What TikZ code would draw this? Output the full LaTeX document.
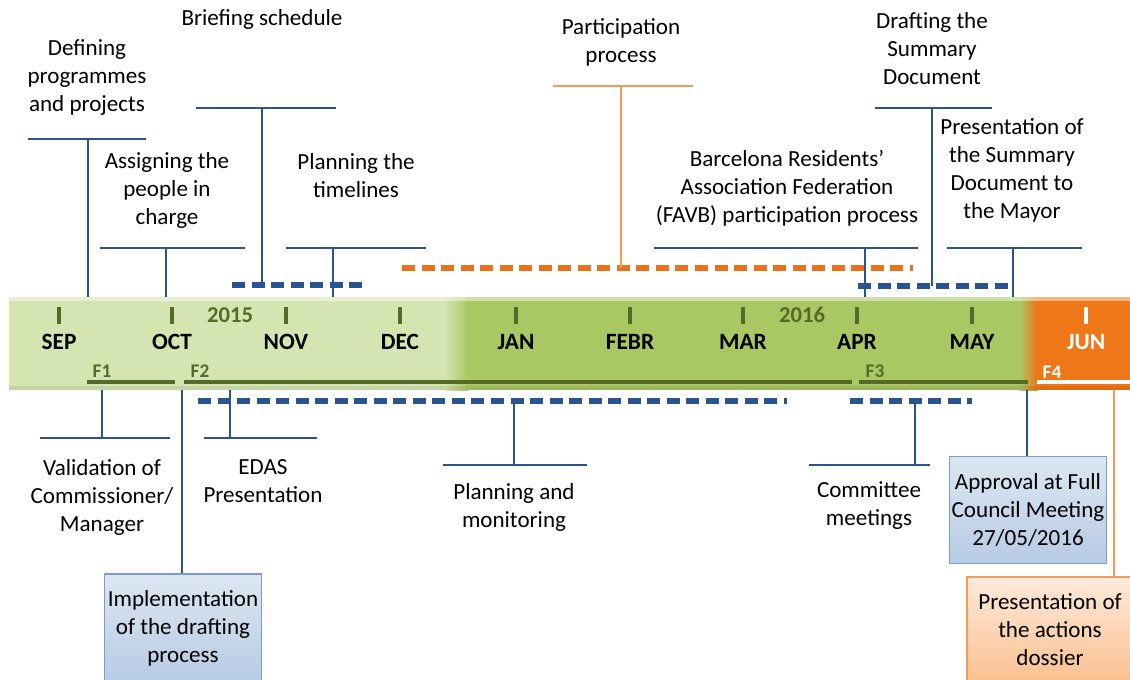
\documentclass[tikz,border=0pt]{standalone}
\usepackage{fontspec}
\setmainfont{Carlito}
\usepackage{xcolor}
\usepackage{tikz}
\usetikzlibrary{calc}
\definecolor{tnavy}{HTML}{2A5490}
\definecolor{tolive}{HTML}{566A28}
\definecolor{tlight}{HTML}{D5E5B2}
\definecolor{tdark}{HTML}{A9C763}
\definecolor{torange}{HTML}{EF7718}
\definecolor{tdash}{HTML}{E8731C}
\definecolor{tpeach}{HTML}{F59B55}
\definecolor{bluetop}{HTML}{DCE6F2}
\definecolor{bluebot}{HTML}{B7CBE4}
\definecolor{blueedge}{HTML}{7A9CCD}
\definecolor{peachtop}{HTML}{FDEADB}
\definecolor{peachbot}{HTML}{FAC08F}

\begin{document}
\begin{tikzpicture}[x=0.75pt, y=-0.75pt,
    lbl/.style={font=\fontsize{17.3}{21}\selectfont, align=center, inner sep=0pt},
    mon/.style={font=\fontsize{17.5}{20}\selectfont\bfseries, inner sep=0pt},
    yr/.style={font=\fontsize{17}{20}\selectfont\bfseries, text=tolive, inner sep=0pt},
    phase/.style={font=\fontsize{14.5}{16}\selectfont\bfseries, text=tolive, inner sep=0pt},
    tick/.style={tolive, line width=2.4pt},
    fline/.style={tolive, line width=2.6pt},
    stem/.style={tnavy, line width=1.9pt},
    bar/.style={tnavy, line width=1.1pt},
    span/.style={tnavy, line width=3.8pt, dash pattern=on 9.75pt off 4.9pt},
    ostem/.style={tpeach, line width=1.9pt},
    obar/.style={tpeach, line width=1.1pt},
    ospan/.style={tdash, line width=3.8pt, dash pattern=on 9.75pt off 4.9pt},
    bluebox/.style={lbl, draw=blueedge, line width=0.8pt, top color=bluetop, bottom color=bluebot},
    orangebox/.style={lbl, draw=tpeach, line width=1pt, top color=peachtop, bottom color=peachbot}]
    \useasboundingbox (0,0) rectangle (1130,679);

    % Band
    \fill[tlight] (9,297) rectangle (446,390);
    \shade[left color=tlight, right color=tdark] (445,297) rectangle (468,390);
    \fill[tdark] (467,297) rectangle (1021,390);
    \shade[left color=tdark, right color=torange] (1020,297) rectangle (1037,390);
    \fill[torange] (1036,297) rectangle (1130,390);
    \fill[white, opacity=0.45] (9,297) rectangle (1130,301);
    \fill[black, opacity=0.07] (9,386) rectangle (1130,390);

    % Months
    \foreach \x/\m in {59/SEP,172/OCT,286/NOV,400/DEC,516/JAN,630/FEBR,743/MAR,857/APR,972/MAY} {
        \draw[tick] (\x,307) -- (\x,324);
        \node[mon] (m\m) at (\x,342) {\m};
    }
    \draw[white, line width=2.4pt] (1086,307) -- (1086,324);
    \node[mon, text=white] (mJUN) at (1086,342) {JUN};
    \node[yr] (y15) at (230,315) {2015};
    \node[yr] (y16) at (802,315) {2016};

    % Phases
    \node[phase] (f1) at (102,371) {F1};
    \node[phase] (f2) at (200,371) {F2};
    \node[phase] (f3) at (875,371) {F3};
    \node[phase, text=white] (f4) at (1052,372) {F4};
    \draw[fline] (87,382) -- (175,382);
    \draw[fline] (184,382) -- (852,382);
    \draw[fline] (859,382) -- (1028,382);
    \draw[white, line width=2.6pt] (1037,382) -- (1130,382);

    % Dashed spans
    \coordinate (brfS1) at (232,285); \coordinate (brfS2) at (363,285);
    \draw[span] (brfS1) -- (brfS2);
    \coordinate (parS1) at (402,268); \coordinate (parS2) at (913,268);
    \draw[ospan] (parS1) -- (parS2);
    \coordinate (drfS1) at (858,286); \coordinate (drfS2) at (1008,286);
    \draw[span] (drfS1) -- (drfS2);
    \coordinate (pamS1) at (198,401); \coordinate (pamS2) at (787,401);
    \draw[span] (pamS1) -- (pamS2);
    \coordinate (comS1) at (850,401); \coordinate (comS2) at (972,401);
    \draw[span] (comS1) -- (comS2);

    % Defining programmes and projects
    \node[lbl] (defT) at (87,77) {Defining\\programmes\\and projects};
    \coordinate (defJ) at (88,139); \coordinate (defB) at (88,297);
    \draw[bar] (28,139) -- (146,139);
    \draw[stem] (defJ) -- (defB);
    % Assigning the people in charge
    \node[lbl] (asgT) at (167,190) {Assigning the\\people in\\charge};
    \coordinate (asgJ) at (166,248); \coordinate (asgB) at (166,297);
    \draw[bar] (100,248) -- (245,248);
    \draw[stem] (asgJ) -- (asgB);
    % Briefing schedule
    \node[lbl] (brfT) at (262,19) {Briefing schedule};
    \coordinate (brfJ) at (262,108); \coordinate (brfB) at (262,285);
    \draw[bar] (196,108) -- (336,108);
    \draw[stem] (brfJ) -- (brfB);
    % Planning the timelines
    \node[lbl] (plnT) at (356,176) {Planning the\\timelines};
    \coordinate (plnJ) at (333,248); \coordinate (plnB) at (333,297);
    \draw[bar] (286,248) -- (426,248);
    \draw[stem] (plnJ) -- (plnB);
    % Participation process
    \node[lbl] (parT) at (621,42) {Participation\\process};
    \coordinate (parJ) at (621,86); \coordinate (parB) at (621,268);
    \draw[obar] (553,86) -- (693,86);
    \draw[ostem] (parJ) -- (parB);
    % FAVB participation process
    \node[lbl] (favT) at (787,188) {Barcelona Residents’\\Association Federation\\(FAVB) participation process};
    \coordinate (favJ) at (865,248); \coordinate (favB) at (865,297);
    \draw[bar] (654,248) -- (918,248);
    \draw[stem] (favJ) -- (favB);
    % Drafting the Summary Document
    \node[lbl] (drfT) at (932,49) {Drafting the\\Summary\\Document};
    \coordinate (drfJ) at (932,108); \coordinate (drfB) at (932,286);
    \draw[bar] (875,108) -- (992,108);
    \draw[stem] (drfJ) -- (drfB);
    % Presentation to the Mayor
    \node[lbl] (preT) at (1012,170) {Presentation of\\the Summary\\Document to\\the Mayor};
    \coordinate (preJ) at (1013,248); \coordinate (preB) at (1013,297);
    \draw[bar] (947,248) -- (1082,248);
    \draw[stem] (preJ) -- (preB);

    % Validation of Commissioner/Manager
    \node[lbl] (valT) at (102,497) {Validation of\\Commissioner/\\Manager};
    \coordinate (valB) at (102,390); \coordinate (valJ) at (102,438);
    \draw[bar] (40,438) -- (170,438);
    \draw[stem] (valB) -- (valJ);
    % EDAS Presentation
    \node[lbl] (edaT) at (263,481) {EDAS\\Presentation};
    \coordinate (edaB) at (230,390); \coordinate (edaJ) at (230,438);
    \draw[bar] (204,438) -- (317,438);
    \draw[stem] (edaB) -- (edaJ);
    % Planning and monitoring
    \node[lbl] (pamT) at (514,507) {Planning and\\monitoring};
    \coordinate (pamB) at (514,401); \coordinate (pamJ) at (514,465);
    \draw[bar] (443,465) -- (587,465);
    \draw[stem] (pamB) -- (pamJ);
    % Committee meetings
    \node[lbl] (comT) at (869,506) {Committee\\meetings};
    \coordinate (comB) at (915,401); \coordinate (comJ) at (915,465);
    \draw[bar] (809,465) -- (930,465);
    \draw[stem] (comB) -- (comJ);

    % Boxes
    \node[bluebox, minimum width=117.75pt, minimum height=81pt] (impT) at (183,628) {Implementation\\of the drafting\\process};
    \coordinate (impB) at (182,390);
    \draw[stem] (impB) -- (impB |- impT.north);
    \node[bluebox, minimum width=117.75pt, minimum height=80.25pt] (aprT) at (1028,510) {Approval at Full\\Council Meeting\\27/05/2016};
    \coordinate (aprB) at (1027,390);
    \draw[stem] (aprB) -- (aprB |- aprT.north);
    \node[orangebox, minimum width=124.5pt, minimum height=79.5pt] (dosT) at (1050,630) {Presentation of\\the actions\\dossier};
    \coordinate (dosB) at (1114,390);
    \draw[ostem] (dosB) -- (dosB |- dosT.north);
\end{tikzpicture}
\end{document}
